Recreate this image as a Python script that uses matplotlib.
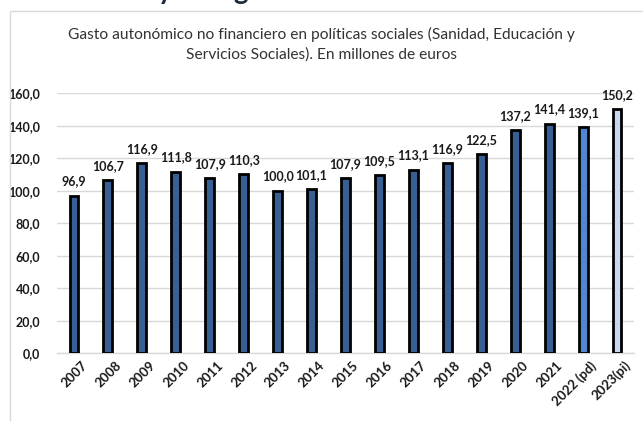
import matplotlib.pyplot as plt
import matplotlib.transforms as mtransforms
from matplotlib.patches import Rectangle

years = ["2007", "2008", "2009", "2010", "2011", "2012", "2013", "2014", "2015",
         "2016", "2017", "2018", "2019", "2020", "2021", "2022 (pd)", "2023(pi)"]
values = [96.9, 106.7, 116.9, 111.8, 107.9, 110.3, 100.0, 101.1, 107.9,
          109.5, 113.1, 116.9, 122.5, 137.2, 141.4, 139.1, 150.2]
bar_colors = ["#375F93"] * 15 + ["#4F87D2", "#C8D8EF"]
yticks = [0, 20, 40, 60, 80, 100, 120, 140, 160]

plt.rcParams['font.family'] = ['Lato', 'DejaVu Sans']

fig = plt.figure(figsize=(6.43, 4.21), dpi=100)

# light frame of the chart area (runs past the right and bottom edges)
fig.patches.append(Rectangle((10 / 643, -0.1), 1.0, 1 - 11 / 421 + 0.1,
                             transform=fig.transFigure, fill=False,
                             edgecolor="#D9D9D9", linewidth=1.0))

# bits of a page heading cut off by the top edge
fig.text(158 / 643, 1.003, "y", fontsize=20, fontweight="bold", color="#1F2A3A",
         ha="left", va="baseline")
fig.text(233 / 643, 1.003, "g", fontsize=20, fontweight="bold", color="#1F2A3A",
         ha="left", va="baseline")

fig.text(0.5, 1 - 44 / 421,
         "Gasto autonómico no financiero en políticas sociales (Sanidad, Educación y\n"
         "Servicios Sociales). En millones de euros",
         ha="center", va="center", fontsize=11.2, color="#333333", linespacing=1.45)

ax = fig.add_axes([57 / 643, 1 - 353.3 / 421, 577 / 643, 260 / 421])
x = range(len(years))
bars = ax.bar(x, values, width=0.26, color=bar_colors, edgecolor="black",
              linewidth=2.0, zorder=3)
for rect, v in zip(bars, values):
    ax.annotate(f"{v:.1f}".replace(".", ","),
                (rect.get_x() + rect.get_width() / 2, v),
                xytext=(0, 6), textcoords="offset points",
                ha="center", va="bottom", fontsize=9, fontweight="bold",
                color="#1A1A1A")

ax.set_xlim(-0.5, len(years) - 0.5)
ax.set_ylim(0, 160)
ax.set_yticks(yticks)
ax.set_yticklabels([f"{t:.1f}".replace(".", ",") for t in yticks],
                   fontsize=9, fontweight="bold", color="#1A1A1A")
ax.set_xticks(list(x))
ax.set_xticklabels(years, fontsize=9.5, fontweight="bold", color="#1A1A1A")
ax.tick_params(axis="both", length=0)
ax.tick_params(axis="y", pad=12)
ax.tick_params(axis="x", pad=4)
# nudge rotated labels a bit right, like the excel layout
shift = mtransforms.ScaledTranslation(5 / 72, 0, fig.dpi_scale_trans)
for lbl in ax.get_xticklabels():
    lbl.set_rotation(45)
    lbl.set_ha("right")
    lbl.set_va("top")
    lbl.set_rotation_mode("anchor")
    lbl.set_transform(lbl.get_transform() + shift)
ax.grid(axis="y", color="#D9D9D9", linewidth=1.0, zorder=0)
for side in ["top", "right", "left"]:
    ax.spines[side].set_visible(False)
ax.spines["bottom"].set_color("#D9D9D9")
ax.spines["bottom"].set_linewidth(1.0)

plt.savefig("out.png", dpi=100)
